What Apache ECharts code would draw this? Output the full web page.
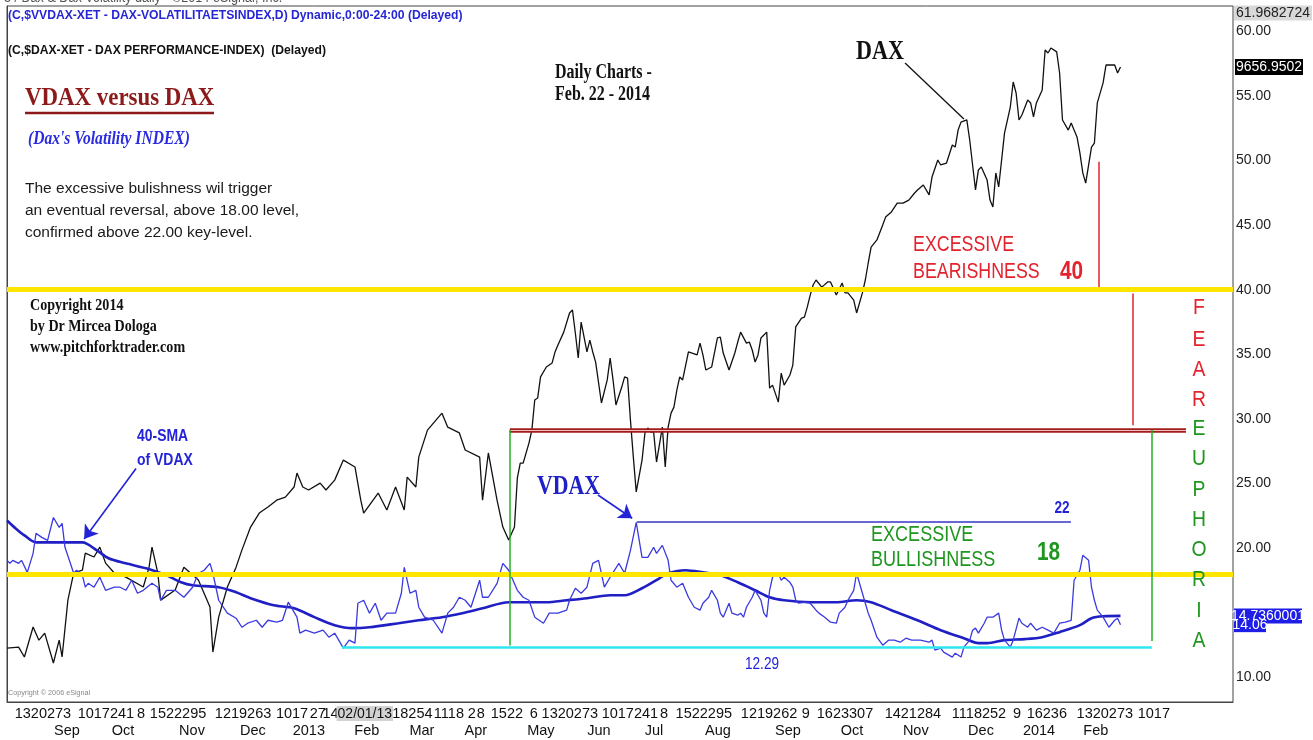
<!DOCTYPE html>
<html>
<head>
<meta charset="utf-8">
<title>VDAX versus DAX</title>
<script src="https://cdn.jsdelivr.net/npm/echarts@6/dist/echarts.min.js"></script>
<style>
  html, body { margin: 0; padding: 0; background: #fff; }
  #main { width: 1313px; height: 740px; }
</style>
</head>
<body>
<div id="main"></div>
<script type="text/javascript">
// x = trading session number from the left edge of the chart (Aug 2012 .. 21 Feb 2014)
var daxBar = [0,4,6,9,11,13,16,18,19,21,23,26,27,30,32,34,37,41,47,49,50,52,53,58,61,66,70,71,73,76,79,81,84,87,90,93,96,99,100,102,104,108,110,113,116,120,122,123,128,131,134,137,138,141,142,145,150,152,156,158,163,164,166,169,171,173,175,176,177,178,180,181,182,183,184,186,188,189,190,192,194,195,196,197,198,200,201,202,203,205,207,208,209,210,212,213,214,215,216,217,219,220,221,222,223,224,226,227,228,229,230,231,232,233,235,238,239,240,241,243,245,246,247,249,251,252,253,255,256,257,258,259,260,262,263,264,266,267,268,270,271,272,274,275,276,277,278,279,281,283,284,286,288,289,290,292,293,295,296,297,298,300,302,303,305,307,309,311,313,314,316,318,319,321,322,324,326,327,328,329,331,332,334,335,336,338,339,340,341,342,344,346,347,348,349,350,352,353,354,355,357,358,359,360,362,363,364,366,367,368,369,370,371,372,374,375,376,378,379,381,382,383,384];
var daxVal = [6959,6964,6918,7057,6996,7029,6890,6996,6918,7182,7308,7321,7400,7382,7428,7354,7308,7289,7243,7335,7428,7308,7182,7229,7335,7275,7150,6941,7103,7243,7335,7414,7521,7586,7614,7646,7660,7707,7772,7707,7693,7725,7693,7739,7832,7800,7646,7586,7679,7600,7707,7600,7753,7707,7846,7971,8050,7985,7958,7879,7846,7646,7865,7646,7521,7461,7521,7749,7818,7818,7911,7971,8111,8120,8218,8264,8283,8334,8366,8426,8515,8529,8422,8306,8473,8334,8389,8334,8287,8097,8204,8306,8204,8088,8171,8218,8213,8018,7846,7684,7832,7958,7981,7962,7962,7823,7985,7800,7985,8050,8078,8157,8218,8204,8334,8320,8375,8320,8250,8264,8399,8403,8329,8250,8329,8380,8426,8375,8380,8343,8287,8320,8399,8426,8166,8180,8101,8236,8180,8227,8273,8450,8491,8496,8543,8598,8645,8668,8635,8659,8659,8598,8654,8608,8608,8575,8515,8608,8668,8747,8821,8854,8923,8960,8984,9025,9025,9039,9072,9086,9109,9063,9146,9225,9202,9211,9295,9285,9364,9401,9411,9318,9086,9179,9193,9132,9039,9007,9165,9100,9350,9471,9587,9536,9411,9434,9504,9490,9425,9490,9550,9736,9722,9745,9727,9629,9411,9364,9397,9364,9332,9258,9165,9118,9285,9304,9490,9583,9666,9666,9666,9629,9656.9502];

var vdaxBar = [0,1,2,4,5,7,9,10,12,14,16,18,19,20,23,24,26,27,28,30,32,34,37,39,41,43,45,47,50,52,53,55,58,61,64,66,68,70,71,73,76,79,81,83,86,88,90,93,95,97,100,101,103,106,109,111,113,116,118,120,121,123,125,127,129,131,134,136,137,139,141,142,144,147,150,152,154,156,158,160,163,164,166,169,171,173,176,178,180,182,185,187,190,193,194,196,198,200,202,204,206,208,211,213,215,217,219,221,223,224,226,228,229,231,233,235,237,239,240,242,243,245,246,247,249,250,252,253,254,255,257,258,260,261,262,263,264,266,267,268,270,271,272,273,275,277,279,280,282,284,286,287,289,290,292,293,295,296,297,298,300,302,304,306,308,310,312,315,318,319,320,322,323,326,327,329,330,332,333,334,335,337,338,340,342,343,344,346,347,349,350,352,353,355,357,359,361,363,365,367,368,370,371,373,374,375,376,378,380,382,383,384];
var vdaxVal = [19.04,18.81,19.04,18.81,19.04,18.11,19.58,21.13,20.82,20.59,22.36,21.59,21.90,20.05,18.04,18.27,17.88,16.96,17.26,16.96,17.73,16.72,16.96,16.96,16.72,17.50,16.49,16.72,17.26,16.96,15.95,16.72,16.72,16.18,16.96,18.04,18.27,18.81,18.04,15.95,14.95,14.56,13.86,14.17,14.40,13.86,14.40,14.25,14.40,15.80,14.64,13.40,13.63,13.40,13.63,13.09,13.40,12.24,12.86,12.63,15.72,15.95,14.95,15.72,14.40,14.95,14.95,16.49,18.50,16.49,16.72,15.41,14.64,14.40,13.40,14.95,15.41,16.18,15.95,15.41,17.50,16.18,16.18,17.26,18.81,18.27,16.72,16.18,15.95,14.64,14.17,14.95,14.95,15.18,15.95,16.88,16.49,16.96,18.81,19.04,16.96,17.73,18.81,18.04,19.81,21.98,19.27,19.27,20.05,19.58,20.20,19.04,17.50,16.96,17.26,16.18,15.41,15.18,15.72,16.18,16.72,15.95,14.95,14.64,15.72,14.95,14.79,14.95,14.64,15.41,16.18,16.72,15.95,14.95,14.64,16.72,17.73,18.04,17.50,17.73,17.34,16.96,15.95,15.72,15.80,15.72,15.18,14.95,14.64,14.25,14.17,14.95,15.41,15.95,16.72,18.04,16.49,15.72,14.95,14.40,13.09,12.47,12.86,12.86,12.70,13.01,12.86,12.86,12.70,12.86,12.09,12.24,11.93,11.55,11.85,11.55,12.32,12.86,13.63,13.79,13.40,14.17,14.64,14.64,14.95,13.63,12.86,12.32,12.86,14.56,14.17,13.86,14.17,13.63,13.86,13.63,13.40,14.17,14.25,14.40,17.50,18.27,19.43,19.04,16.96,15.95,15.18,14.64,13.86,14.40,14.56,14.06];

// 40-day simple moving average of VDAX
var smaBar = [0,3,6,10,14,26,31,35,41,48,55,60,64,73,79,84,92,99,106,113,119,125,135,142,150,157,164,173,179,186,193,200,208,213,219,225,228,234,240,246,252,258,263,268,277,286,293,298,305,314,322,330,335,338,344,351,357,363,370,374,378,384];
var smaVal = [22.13,21.51,20.97,20.43,20.43,20.43,19.81,19.20,18.81,18.42,17.88,17.34,17.11,16.96,16.57,16.11,15.56,15.33,14.64,14.02,13.79,13.86,14.17,14.40,14.64,14.95,15.33,15.80,15.80,15.80,15.95,16.11,16.34,16.34,16.88,17.65,18.04,18.27,18.11,17.88,17.34,16.72,16.18,15.95,15.80,15.80,15.95,15.80,15.18,14.40,13.63,13.01,12.63,12.63,12.86,12.94,13.09,13.48,14.02,14.56,14.71,14.7360001];

// right axis ticks and the two rows of the time axis
var vdaxTicks = [10, 20, 25, 30, 35, 40, 45, 50, 55, 60];
var dayPos = [12.4,34.1,46.2,59,81.4,98.3,107.2,111.6,123.4,139.8,152.4,160.3,163.4,172.4,181.7,194.1,214.8,226.6,240.3,262.8,275.5,289,312.4,335.2,348.3,358.6,378.6,395.5];
var dayText = ['1320273','1017241','8','1522295','1219263','1017','27','14','02/01/13','18254','1118','2','8','1522','6','1320273','1017241','8','1522295','1219262','9','1623307','1421284','1118252','9','16236','1320273','1017'];
var monthPos = [20.7,40,63.8,84.8,104.1,124.1,143.1,161.7,184.1,204.1,223.1,245.2,269.3,291.4,313.4,335.9,355.9,375.5];
var monthText = ['Sep','Oct','Nov','Dec','2013','Feb','Mar','Apr','May','Jun','Jul','Aug','Sep','Oct','Nov','Dec','2014','Feb'];

// key levels
var fearLevel = 40, bullLevel = 18, keyLevel = 22, lowLevel = 12.29, euphoriaTop = 29.13;

var XMAX = 422.8;
var NARROW = '"Liberation Sans Narrow", "Arial Narrow", "Liberation Sans", sans-serif';

function pairs(xs, ys) {
  var out = [];
  for (var i = 0; i < xs.length; i++) out.push([xs[i], ys[i]]);
  return out;
}
function txt(x, y, s, font, color, sx, align) {
  return {
    type: 'text', x: x, y: y, scaleX: sx || 1, silent: true, z: 50,
    style: { text: s, font: font, fill: color, textAlign: align || 'left', textVerticalAlign: 'middle' }
  };
}
function seg(x1, y1, x2, y2, color, width) {
  return [{ coord: [x1, y1], lineStyle: { color: color, width: width, type: 'solid' } }, { coord: [x2, y2] }];
}
function arrow(x1, y1, x2, y2, color) {
  return [
    { coord: [x1, y1], symbol: 'none', lineStyle: { color: color, width: 1.6, type: 'solid' } },
    { coord: [x2, y2], symbol: 'arrow', symbolSize: 13 }
  ];
}

var chart = echarts.init(document.getElementById('main'));

var serif = '"Liberation Serif", "Times New Roman", serif';
var sans = '"Liberation Sans", Arial, sans-serif';
var blue = '#2323d8', red = '#e3232d', green = '#1f961f', darkRed = '#8c1a1a';

var graphics = [
  txt(4, -2, '3 / Dax & Dax Volatility daily - \u00a92014 eSignal, Inc.', '14px ' + sans, '#555', 0.9),
  txt(8, 15, '(C,$VVDAX-XET - DAX-VOLATILITAETSINDEX,D) Dynamic,0:00-24:00 (Delayed)', 'bold 13.5px ' + sans, '#2626d6', 0.9),
  txt(8, 50, '(C,$DAX-XET - DAX PERFORMANCE-INDEX)  (Delayed)', 'bold 13.5px ' + sans, '#111', 0.9),
  txt(25, 98, 'VDAX versus DAX', 'bold 26px ' + serif, darkRed, 0.88),
  { type: 'line', silent: true, z: 50, shape: { x1: 25, y1: 113, x2: 214, y2: 113 }, style: { stroke: darkRed, lineWidth: 2.5 } },
  txt(28, 139, "(Dax's Volatility INDEX)", 'bold italic 19px ' + serif, '#2a2ae0', 0.82),
  txt(25, 189, 'The excessive bulishness wil trigger', '15.5px ' + sans, '#1a1a1a', 1),
  txt(25, 211, 'an eventual reversal, above 18.00 level,', '15.5px ' + sans, '#1a1a1a', 1),
  txt(25, 233, 'confirmed above 22.00 key-level.', '15.5px ' + sans, '#1a1a1a', 1),
  txt(30, 306, 'Copyright 2014', 'bold 16px ' + serif, '#111', 0.88),
  txt(30, 327, 'by Dr Mircea Dologa', 'bold 16px ' + serif, '#111', 0.88),
  txt(30, 348, 'www.pitchforktrader.com', 'bold 16px ' + serif, '#111', 0.88),
  txt(555, 73, 'Daily Charts -', 'bold 20px ' + serif, '#111', 0.8),
  txt(555, 95, 'Feb. 22 - 2014', 'bold 20px ' + serif, '#111', 0.8),
  txt(856, 52, 'DAX', 'bold 28px ' + serif, '#111', 0.79),
  txt(537, 487, 'VDAX', 'bold 28px ' + serif, '#2020c8', 0.78),
  txt(137, 436, '40-SMA', 'bold 17px ' + sans, blue, 0.82),
  txt(137, 460, 'of VDAX', 'bold 17px ' + sans, blue, 0.82),
  txt(913, 245, 'EXCESSIVE', '22px ' + sans, red, 0.81),
  txt(913, 272, 'BEARISHNESS', '22px ' + sans, red, 0.81),
  txt(1060, 272, '40', 'bold 26px ' + sans, red, 0.8),
  txt(871, 535, 'EXCESSIVE', '22px ' + sans, green, 0.82),
  txt(871, 560, 'BULLISHNESS', '22px ' + sans, green, 0.82),
  txt(1037, 553, '18', 'bold 26px ' + sans, green, 0.8),
  txt(1062, 509, '22', 'bold 16px ' + sans, blue, 0.85, 'center'),
  txt(762, 665, '12.29', '16px ' + sans, blue, 0.85, 'center'),
  txt(8, 693, 'Copyright \u00a9 2006 eSignal', '8px ' + sans, '#888', 0.9)
];
var fear = 'FEAR', eup = 'EUPHORIA';
var fearY = [308, 340, 370, 400], eupY = [429, 459, 490, 520, 550, 580, 611, 641];
for (var i = 0; i < fear.length; i++) graphics.push(txt(1199, fearY[i], fear[i], '22px ' + sans, red, 0.88, 'center'));
for (var j = 0; j < eup.length; j++) graphics.push(txt(1199, eupY[j], eup[j], '22px ' + sans, green, 0.88, 'center'));

var flagLabel = { show: true, position: 'inside', fontFamily: NARROW, fontSize: 14, color: '#fff', formatter: function (p) { return p.name; } };

var option = {
  animation: false,
  backgroundColor: '#fff',
  grid: { left: 7, right: 80, top: 6, bottom: 38, show: true, borderColor: '#444', borderWidth: 1, outerBoundsMode: 'none' },
  xAxis: [
    {
      type: 'value', min: 0, max: XMAX, position: 'bottom',
      axisLine: { show: true, lineStyle: { color: '#444' } },
      axisTick: { show: false }, splitLine: { show: false },
      axisLabel: {
        customValues: dayPos, hideOverlap: false, showMinLabel: true, showMaxLabel: true, margin: 4,
        fontFamily: NARROW, fontSize: 14.5, color: '#111',
        formatter: function (v) {
          var k = dayPos.indexOf(v);
          var s = k >= 0 ? dayText[k] : '';
          return s === '02/01/13' ? '{hl|' + s + '}' : s;
        },
        rich: { hl: { backgroundColor: '#d2d2d2', fontFamily: NARROW, fontSize: 14, color: '#111', padding: [1, 1, 0, 1] } }
      }
    },
    {
      type: 'value', min: 0, max: XMAX, position: 'bottom', offset: 18,
      axisLine: { show: false }, axisTick: { show: false }, splitLine: { show: false },
      axisLabel: {
        customValues: monthPos, hideOverlap: false, showMinLabel: true, showMaxLabel: true, margin: 3,
        fontFamily: NARROW, fontSize: 14.5, color: '#111',
        formatter: function (v) { var k = monthPos.indexOf(v); return k >= 0 ? monthText[k] : ''; }
      }
    }
  ],
  yAxis: [
    {
      type: 'value', position: 'right', min: 8.07, max: 61.9682724,
      axisLine: { show: true, lineStyle: { color: '#444' } },
      axisTick: { show: false }, splitLine: { show: false },
      axisLabel: {
        customValues: vdaxTicks, margin: 3, fontFamily: NARROW, fontSize: 14, color: '#222',
        formatter: function (v) { return v.toFixed(2); }
      }
    },
    { type: 'value', min: 6709, max: 9940, show: false, splitLine: { show: false } }
  ],
  graphic: graphics,
  series: [
    {
      name: 'levels', type: 'line', data: [], z: 1, silent: true,
      markLine: {
        silent: true, symbol: 'none', animation: false,
        label: { show: false },
        data: [
          [{ coord: [0, fearLevel], lineStyle: { color: '#ffe600', width: 5, type: 'solid' } }, { coord: [XMAX, fearLevel] }],
          [{ coord: [0, bullLevel], lineStyle: { color: '#ffe600', width: 5, type: 'solid' } }, { coord: [XMAX, bullLevel] }],
          seg(173.4, euphoriaTop, 406.6, euphoriaTop, '#a21c1c', 4.5),
          seg(173.4, euphoriaTop, 406.6, euphoriaTop, '#f0c0c0', 1.2),
          seg(173.4, euphoriaTop, 173.4, 12.45, '#22b022', 1.5),
          seg(394.8, euphoriaTop, 394.8, 12.8, '#22b022', 1.5),
          seg(115.5, lowLevel, 394.8, lowLevel, '#2ee6f0', 2.5),
          seg(217.2, keyLevel, 366.9, keyLevel, '#3535c8', 1.6),
          seg(376.6, 49.9, 376.6, 40.2, red, 1.5),
          seg(388.3, 39.7, 388.3, 29.5, red, 1.5),
          arrow(44.5, 26.15, 26.6, 20.7, blue),
          arrow(203.8, 24.1, 215.6, 22.3, blue)
        ]
      },
      markPoint: {
        silent: true,
        data: [
          { name: '61.9682724', coord: [XMAX, 61.9682724], symbol: 'rect', symbolSize: [78, 15], symbolOffset: [40, 7],
            itemStyle: { color: '#d9d9d9' }, label: { show: true, position: 'inside', fontFamily: NARROW, fontSize: 14, color: '#222', formatter: function (p) { return p.name; } } }
        ]
      }
    },
    {
      name: 'DAX', type: 'line', yAxisIndex: 1, z: 2, silent: true,
      data: pairs(daxBar, daxVal), showSymbol: false, symbol: 'none',
      lineStyle: { color: '#111', width: 1.3 },
      markLine: {
        silent: true, symbol: 'none', label: { show: false },
        data: [seg(309.7, 9675, 330, 9415, '#111', 1.3)]
      },
      markPoint: {
        silent: true,
        data: [{ name: '9656.9502', coord: [XMAX, 9656.9502], symbol: 'rect', symbolSize: [68, 16], symbolOffset: [36, 0],
                 itemStyle: { color: '#000' }, label: flagLabel }]
      }
    },
    {
      name: '40-SMA of VDAX', type: 'line', z: 3, silent: true,
      data: pairs(smaBar, smaVal), showSymbol: false, symbol: 'none', smooth: 0.3,
      lineStyle: { color: '#1f1fc4', width: 2.6 }
    },
    {
      name: 'VDAX', type: 'line', z: 4, silent: true,
      data: pairs(vdaxBar, vdaxVal), showSymbol: false, symbol: 'none',
      lineStyle: { color: '#3a3ae0', width: 1.3 },
      markPoint: {
        silent: true,
        data: [
          { name: '14.7360001', coord: [XMAX, smaVal[smaVal.length - 1]], symbol: 'rect', symbolSize: [68, 15], symbolOffset: [35, 0],
            itemStyle: { color: '#1e1ee6' }, label: flagLabel },
          { name: '14.06', coord: [XMAX, vdaxVal[vdaxVal.length - 1]], symbol: 'rect', symbolSize: [32, 15], symbolOffset: [17, 0],
            itemStyle: { color: '#1e1ee6' }, label: flagLabel }
        ]
      }
    }
  ]
};

chart.setOption(option);
</script>
</body>
</html>
